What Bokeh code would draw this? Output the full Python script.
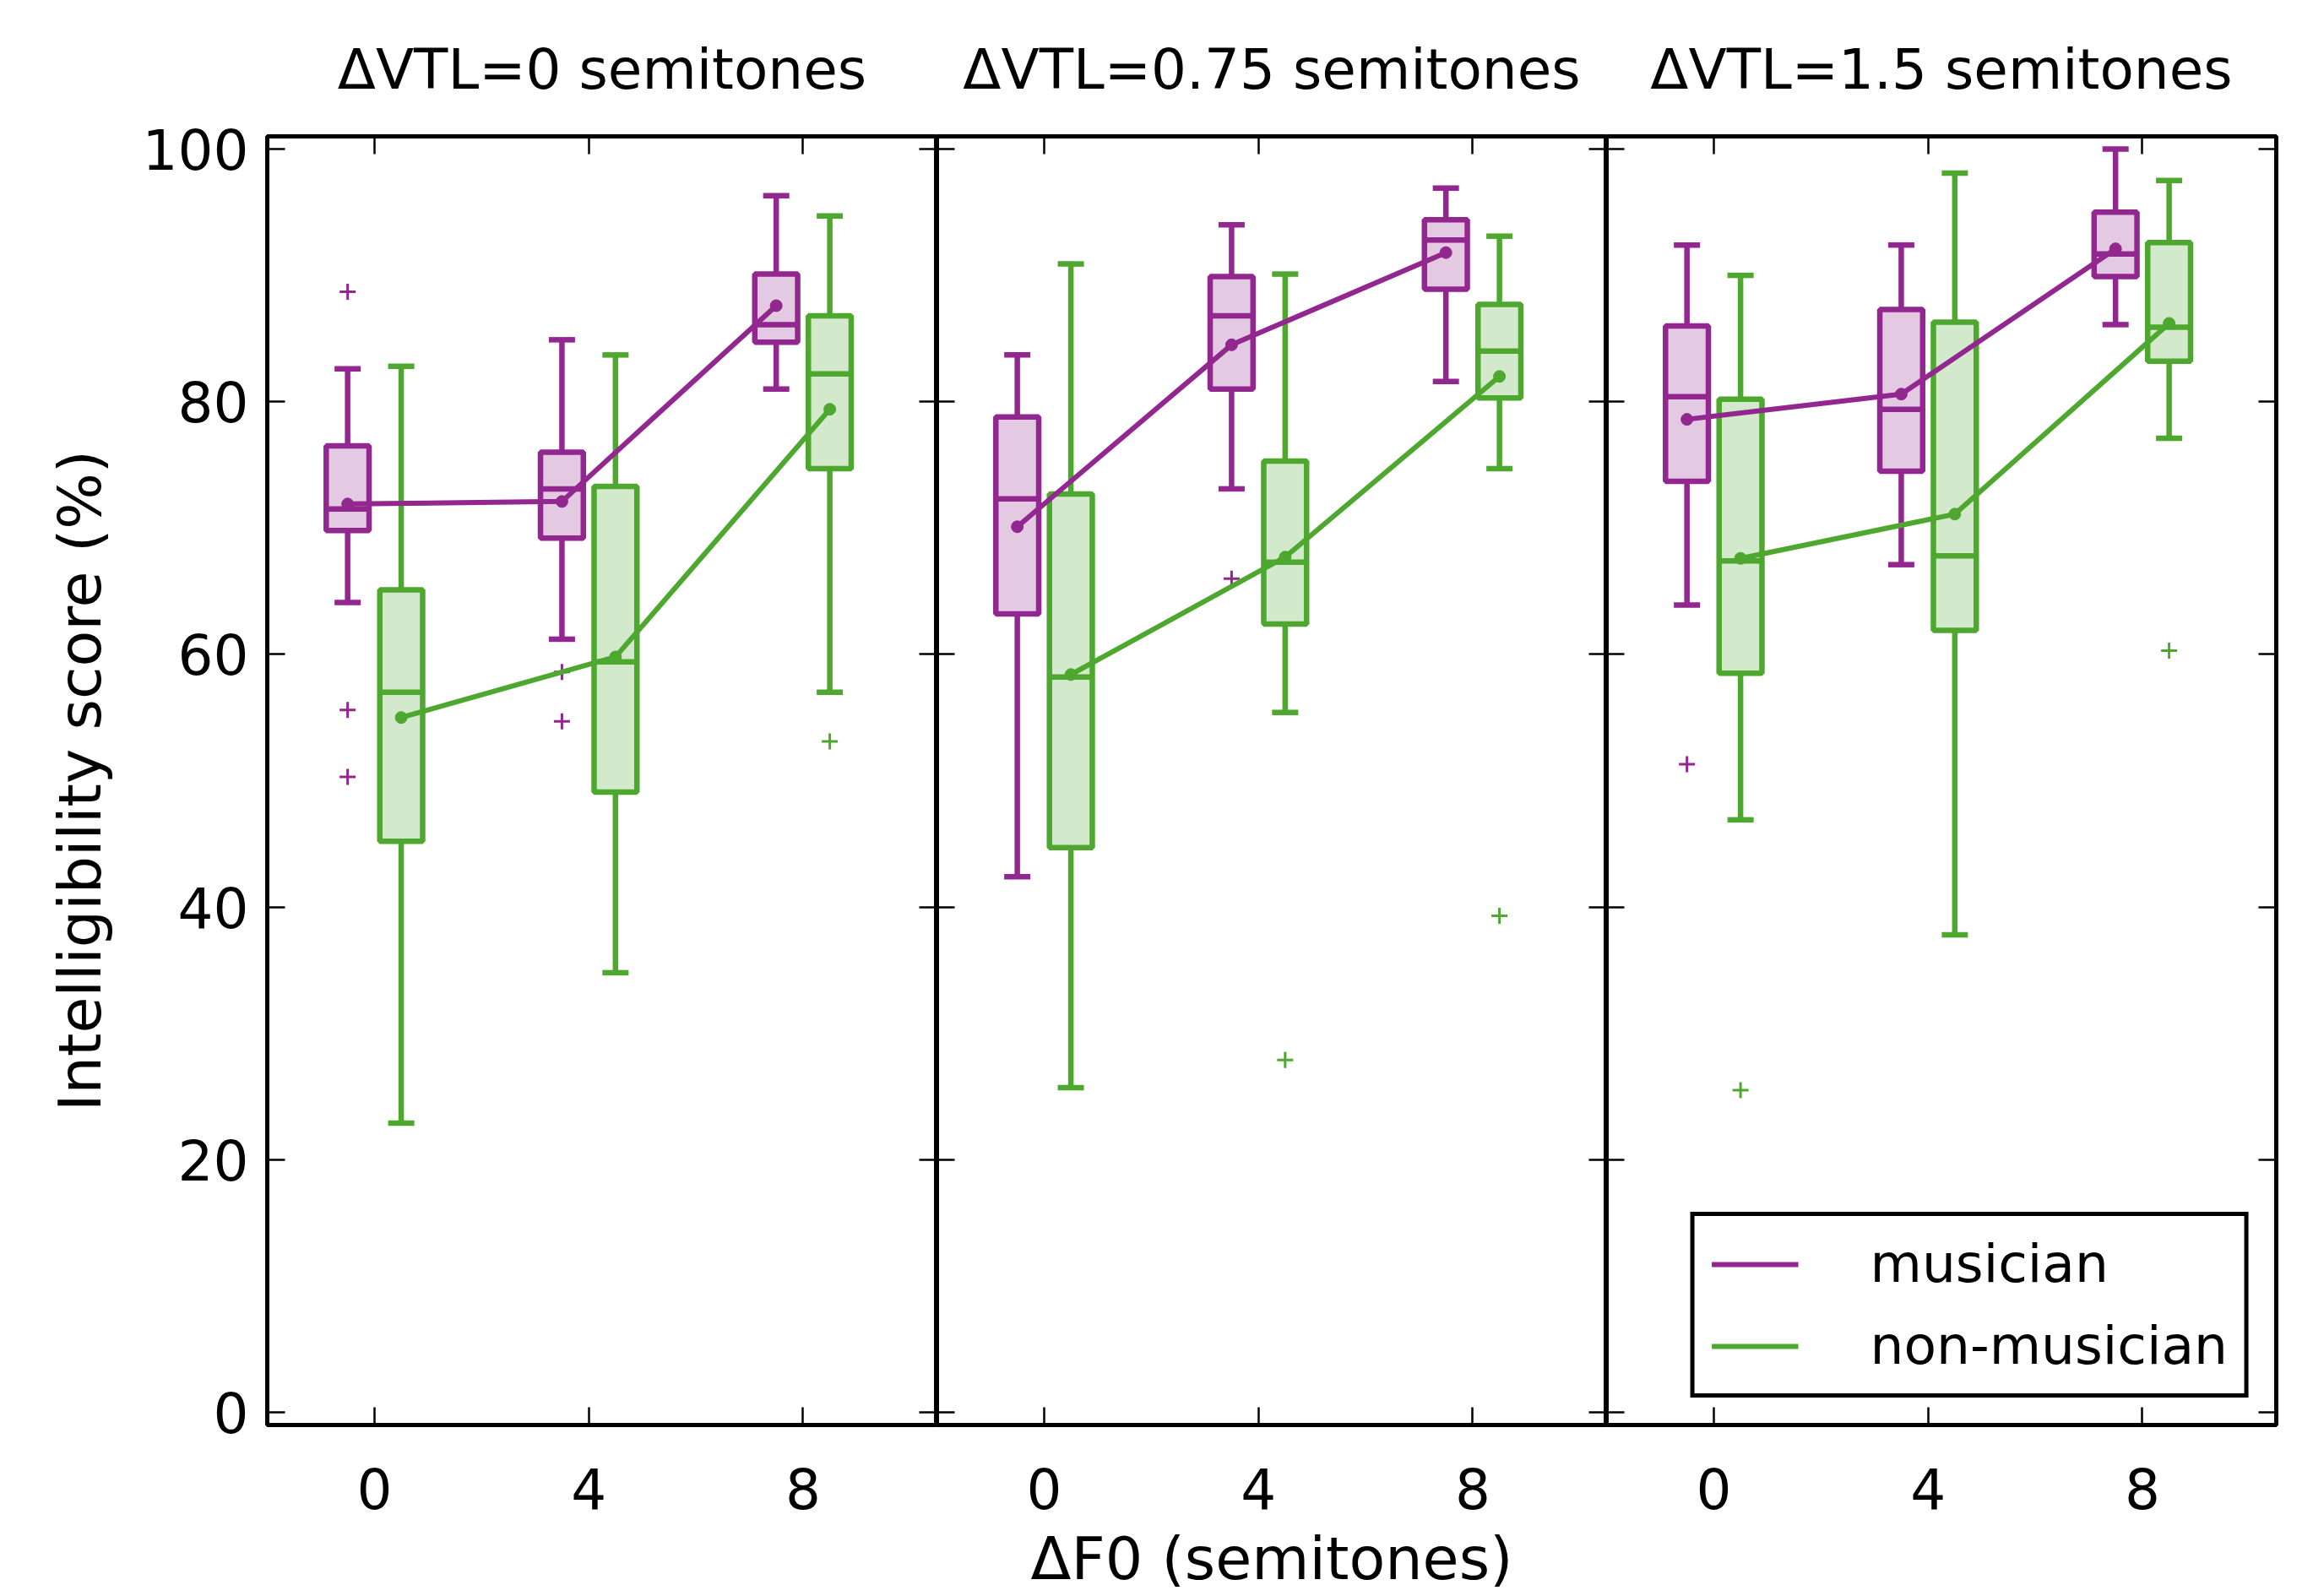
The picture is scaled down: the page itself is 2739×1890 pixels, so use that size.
from bokeh.plotting import figure
from bokeh.layouts import row
from bokeh.models import Range1d, LinearAxis, FixedTicker, Legend, LegendItem
from bokeh.embed import file_html
from bokeh.resources import INLINE

# ---------------- data ----------------
f0_values = [0, 4, 8]
vtl_titles = ["ΔVTL=0 semitones", "ΔVTL=0.75 semitones", "ΔVTL=1.5 semitones"]
y_ticks = [0, 20, 40, 60, 80, 100]

# musician: one list per VTL panel, entries follow f0_values
mus_whis_lo = [[64.1, 61.2, 81.0], [42.4, 73.1, 81.6], [63.9, 67.1, 86.1]]
mus_q1 = [[69.8, 69.2, 84.7], [63.2, 81.0, 88.9], [73.7, 74.5, 89.9]]
mus_median = [[71.5, 73.1, 86.1], [72.3, 86.8, 92.8], [80.4, 79.4, 91.7]]
mus_q3 = [[76.5, 76.0, 90.1], [78.8, 89.9, 94.4], [86.0, 87.3, 95.0]]
mus_whis_hi = [[82.6, 84.9, 96.3], [83.7, 94.0, 96.9], [92.4, 92.4, 100.0]]
mus_mean = [[71.9, 72.1, 87.6], [70.1, 84.5, 91.8], [78.6, 80.6, 92.1]]
mus_outlier_f0 = [[0, 0, 0, 4, 4], [4], [0]]
mus_outlier_val = [[88.7, 55.6, 50.3, 58.6, 54.7], [66.0], [51.3]]

# non-musician
nm_whis_lo = [[22.9, 34.8, 57.0], [25.7, 55.4, 74.7], [46.9, 37.8, 77.1]]
nm_q1 = [[45.2, 49.1, 74.7], [44.7, 62.4, 80.3], [58.5, 61.9, 83.2]]
nm_median = [[57.0, 59.4, 82.2], [58.2, 67.3, 84.0], [67.4, 67.8, 85.9]]
nm_q3 = [[65.1, 73.3, 86.8], [72.7, 75.3, 87.7], [80.2, 86.3, 92.6]]
nm_whis_hi = [[82.8, 83.7, 94.7], [90.9, 90.1, 93.1], [90.0, 98.1, 97.5]]
nm_mean = [[55.0, 59.8, 79.4], [58.4, 67.7, 82.0], [67.6, 71.1, 86.2]]
nm_outlier_f0 = [[8], [4, 8], [0, 8]]
nm_outlier_val = [[53.1], [27.9, 39.3], [25.5, 60.3]]

group_labels = ["musician", "non-musician"]

# ---------------- style ----------------
MUS_COLOR = "#92278f"
NM_COLOR = "#4ea72e"
FONT = "DejaVu Sans"
TICK_FS = "66px"
LABEL_FS = "70px"
OFFSET = 0.5      # group offset from the f0 position
BOX_W = 0.8
BOX_LW = 6.5
WHIS_LW = 6.5
MEAN_LW = 6

FRAME_W = 793
FRAME_H = 1528
B_TOP = 161
B_BOTTOM = 200
B_LEFT = 316
B_RIGHT_LAST = 20


def style_axis(ax, labels):
    ax.axis_line_color = None
    ax.major_tick_in = 21
    ax.major_tick_out = 0
    ax.major_tick_line_width = 2.5
    ax.major_tick_line_color = "black"
    ax.minor_tick_line_color = None
    if labels:
        ax.major_label_text_font = FONT
        ax.major_label_text_font_size = TICK_FS
        ax.major_label_text_color = "black"
    else:
        ax.major_label_text_font_size = "0px"
        ax.major_label_text_color = None
        ax.major_label_standoff = 0


def draw_group(p, xs, lo, q1, med, q3, hi, mean, out_x, out_v, color):
    p.segment(x0=xs, y0=q3, x1=xs, y1=hi, line_color=color, line_width=WHIS_LW)
    p.segment(x0=xs, y0=q1, x1=xs, y1=lo, line_color=color, line_width=WHIS_LW)
    p.vbar(x=xs, width=BOX_W, bottom=q1, top=q3, fill_color=color, fill_alpha=0.25,
           line_color=color, line_width=BOX_LW)
    p.scatter(x=xs, y=hi, marker="dash", size=31, line_color=color, line_width=WHIS_LW)
    p.scatter(x=xs, y=lo, marker="dash", size=31, line_color=color, line_width=WHIS_LW)
    p.segment(x0=[x - BOX_W / 2 for x in xs], y0=med, x1=[x + BOX_W / 2 for x in xs], y1=med,
              line_color=color, line_width=BOX_LW)
    p.scatter(x=out_x, y=out_v, marker="cross", size=19, line_color=color, line_width=3)


figs = []
for k in range(3):
    first, last = k == 0, k == 2
    bl = B_LEFT if first else 0
    br = B_RIGHT_LAST if last else 0
    p = figure(width=FRAME_W + bl + br, height=FRAME_H + B_TOP + B_BOTTOM,
               x_range=Range1d(-2, 10.5), y_range=Range1d(-1, 101),
               output_backend="svg", toolbar_location=None, title=vtl_titles[k],
               min_border=0, min_border_left=bl, min_border_right=br,
               min_border_top=B_TOP, min_border_bottom=B_BOTTOM)
    p.background_fill_color = "white"
    p.border_fill_color = "white"
    p.outline_line_color = "black"
    p.outline_line_width = 5
    p.outline_line_alpha = 1.0
    p.xgrid.visible = False
    p.ygrid.visible = False

    p.title.text_font = FONT
    p.title.text_font_size = TICK_FS
    p.title.text_font_style = "normal"
    p.title.text_color = "black"
    p.title.align = "center"
    p.title.standoff = 82

    p.xaxis.ticker = FixedTicker(ticks=f0_values)
    p.yaxis.ticker = FixedTicker(ticks=y_ticks)
    style_axis(p.xaxis[0], True)
    p.xaxis.major_label_standoff = 50
    style_axis(p.yaxis[0], first)
    if first:
        p.yaxis.major_label_standoff = 22
        p.yaxis.axis_label = "Intelligibility score (%)"
        p.yaxis.axis_label_text_font = FONT
        p.yaxis.axis_label_text_font_size = LABEL_FS
        p.yaxis.axis_label_text_font_style = "normal"
        p.yaxis.axis_label_text_color = "black"
        p.yaxis.axis_label_standoff = 30
    if k == 1:
        p.xaxis.axis_label = "ΔF0 (semitones)"
        p.xaxis.axis_label_text_font = FONT
        p.xaxis.axis_label_text_font_size = LABEL_FS
        p.xaxis.axis_label_text_font_style = "normal"
        p.xaxis.axis_label_text_color = "black"
        p.xaxis.axis_label_standoff = 15

    top_ax = LinearAxis(ticker=FixedTicker(ticks=f0_values))
    style_axis(top_ax, False)
    p.add_layout(top_ax, "above")
    right_ax = LinearAxis(ticker=FixedTicker(ticks=y_ticks))
    style_axis(right_ax, False)
    p.add_layout(right_ax, "right")

    mus_x = [f - OFFSET for f in f0_values]
    nm_x = [f + OFFSET for f in f0_values]
    draw_group(p, mus_x, mus_whis_lo[k], mus_q1[k], mus_median[k], mus_q3[k], mus_whis_hi[k],
               mus_mean[k], [f - OFFSET for f in mus_outlier_f0[k]], mus_outlier_val[k], MUS_COLOR)
    draw_group(p, nm_x, nm_whis_lo[k], nm_q1[k], nm_median[k], nm_q3[k], nm_whis_hi[k],
               nm_mean[k], [f + OFFSET for f in nm_outlier_f0[k]], nm_outlier_val[k], NM_COLOR)

    mus_line = p.line(x=mus_x, y=mus_mean[k], line_color=MUS_COLOR, line_width=MEAN_LW)
    p.scatter(x=mus_x, y=mus_mean[k], size=14, fill_color=MUS_COLOR, line_color=MUS_COLOR)
    nm_line = p.line(x=nm_x, y=nm_mean[k], line_color=NM_COLOR, line_width=MEAN_LW)
    p.scatter(x=nm_x, y=nm_mean[k], size=14, fill_color=NM_COLOR, line_color=NM_COLOR)

    if last:
        legend = Legend(items=[LegendItem(label=group_labels[0], renderers=[mus_line]),
                               LegendItem(label=group_labels[1], renderers=[nm_line])],
                        location="bottom_right", margin=32, padding=20, spacing=24,
                        glyph_width=103, glyph_height=40, label_height=60, label_standoff=85,
                        label_text_font=FONT, label_text_font_size="63px",
                        label_text_color="black",
                        border_line_color="black", border_line_width=5, border_line_alpha=1.0,
                        background_fill_color="white", background_fill_alpha=1.0)
        p.add_layout(legend)
    figs.append(p)

layout = row(*figs, spacing=0)
open("out.html", "w").write(file_html(layout, INLINE))
